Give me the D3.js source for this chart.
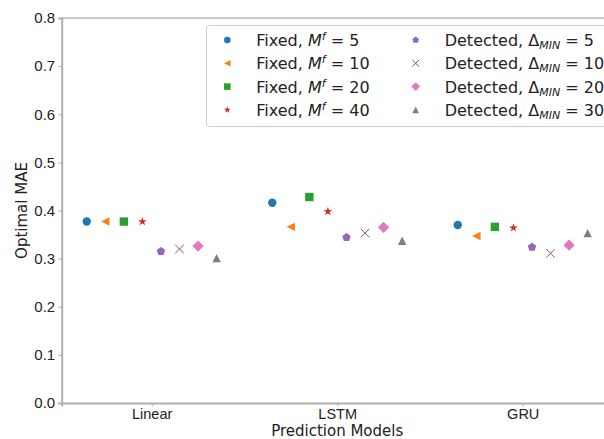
<html lang="en">
<head>
<meta charset="utf-8">
<title>Optimal MAE</title>
<style>
  body { margin: 0; background: white; }
  svg { display: block; font-family: "DejaVu Sans", sans-serif; }
  .tick text { font-size: 15px; fill: #222; }
  .x-axis .tick text { font-size: 14.5px; }
  .lab { font-size: 15px; fill: #222; }
  .leg { font-size: 16px; fill: #222; }
</style>
<script src="https://cdn.jsdelivr.net/npm/d3@7"></script>
</head>
<body>
<script>
// models on the x axis
var models = ["Linear", "LSTM", "GRU"];
var yTicks = [0.0, 0.1, 0.2, 0.3, 0.4, 0.5, 0.6, 0.7, 0.8];

// optimal MAE per model, one array per configuration
var fixed5  = [0.377, 0.416, 0.370];
var fixed10 = [0.377, 0.366, 0.347];
var fixed20 = [0.377, 0.428, 0.366];
var fixed40 = [0.377, 0.398, 0.364];
var det5  = [0.315, 0.344, 0.324];
var det10 = [0.320, 0.353, 0.311];
var det20 = [0.326, 0.365, 0.328];
var det30 = [0.301, 0.337, 0.353];

var series = [
  { kind: "fixed", p: "5",  marker: "circle",   color: "#1f77b4", values: fixed5 },
  { kind: "fixed", p: "10", marker: "tri-left", color: "#ff7f0e", values: fixed10 },
  { kind: "fixed", p: "20", marker: "square",   color: "#2ca02c", values: fixed20 },
  { kind: "fixed", p: "40", marker: "star",     color: "#d62728", values: fixed40 },
  { kind: "det",   p: "5",  marker: "pentagon", color: "#9467bd", values: det5 },
  { kind: "det",   p: "10", marker: "x",        color: "#8c564b", values: det10 },
  { kind: "det",   p: "20", marker: "diamond",  color: "#e377c2", values: det20 },
  { kind: "det",   p: "30", marker: "tri-up",   color: "#7f7f7f", values: det30 }
];

var W = 604, H = 439;
var svg = d3.select("body").append("svg").attr("width", W).attr("height", H);

// model index -> position, each series offset by 0.1
var x = d3.scaleLinear().domain([-0.485, 2.485]).range([61.7, 612.7]);
var offset = d3.scalePoint().domain(d3.range(series.length)).range([-0.35, 0.35]);
var y = d3.scaleLinear().domain([0, 0.8]).range([403, 18]);

function poly(pts) {
  return "M" + pts.map(function(p) { return p[0].toFixed(2) + "," + p[1].toFixed(2); }).join("L") + "Z";
}
function regular(n, r, rot) {
  return d3.range(n).map(function(i) {
    var a = rot + i * 2 * Math.PI / n;
    return [r * Math.sin(a), -r * Math.cos(a)];
  });
}
function markerPath(m, s) {
  if (m === "circle") return d3.symbol(d3.symbolCircle, Math.PI * s * s)();
  if (m === "square") return poly([[-s, -s], [s, -s], [s, s], [-s, s]]);
  if (m === "tri-left") return poly([[-s, 0], [s, -s], [s, s]]);
  if (m === "tri-up") return poly([[0, -s], [s, s], [-s, s]]);
  if (m === "diamond") { var d = s * 1.35; return poly([[0, -d], [d, 0], [0, d], [-d, 0]]); }
  if (m === "pentagon") return poly(regular(5, s * 1.05, 0));
  if (m === "star") {
    var pts = [];
    d3.range(10).forEach(function(i) {
      var r = i % 2 ? s * 1.1 * 0.382 : s * 1.1;
      var a = i * Math.PI / 5;
      pts.push([r * Math.sin(a), -r * Math.cos(a)]);
    });
    return poly(pts);
  }
  if (m === "x") return "M" + (-s) + "," + (-s) + "L" + s + "," + s + "M" + (-s) + "," + s + "L" + s + "," + (-s);
}
function drawMarker(g, d, s) {
  var p = g.append("path").attr("d", markerPath(d.marker, s));
  if (d.marker === "x") p.attr("fill", "none").attr("stroke", d.color).attr("stroke-width", 1);
  else p.attr("fill", d.color);
  return p;
}

// axes
var yAxis = svg.append("g").attr("transform", "translate(61.7,0)")
  .call(d3.axisLeft(y).tickValues(yTicks).tickFormat(d3.format(".1f")).tickSize(3.5).tickPadding(3));
var xAxis = svg.append("g").attr("class", "x-axis").attr("transform", "translate(0,403)")
  .call(d3.axisBottom(x).tickValues(d3.range(models.length)).tickFormat(function(i) { return models[i]; }).tickSize(3.5).tickPadding(2));
[yAxis, xAxis].forEach(function(a) {
  a.select(".domain").attr("stroke", "#b0b0b0").attr("stroke-width", 2);
  a.selectAll(".tick line").attr("stroke", "#b0b0b0");
});
svg.append("line").attr("x1", 61.7).attr("x2", W).attr("y1", 18).attr("y2", 18)
  .attr("stroke", "#999").attr("stroke-width", 1);

svg.append("text").attr("class", "lab").attr("text-anchor", "middle")
  .attr("transform", "translate(27," + y(0.4) + ") rotate(-90)").text("Optimal MAE");
svg.append("text").attr("class", "lab").attr("text-anchor", "middle")
  .attr("x", x(1)).attr("y", 435.5).text("Prediction Models");

// points
series.forEach(function(s, j) {
  s.values.forEach(function(v, i) {
    var g = svg.append("g").attr("transform", "translate(" + x(i + offset(j)) + "," + y(v) + ")");
    drawMarker(g, s, 4.2);
  });
});

// legend
var leg = svg.append("g");
leg.append("rect").attr("x", 206.5).attr("y", 25.5).attr("width", 410).attr("height", 101)
  .attr("rx", 3).attr("fill", "white").attr("fill-opacity", 0.8).attr("stroke", "#ccc");
series.forEach(function(s, j) {
  var col = j < 4 ? 0 : 1, row = j % 4;
  var mx = col ? 415.7 : 227.3, ty = 40 + row * 23.3;
  var g = leg.append("g").attr("transform", "translate(" + mx + "," + ty + ")");
  drawMarker(g, s, 3.3);
  var t = leg.append("text").attr("class", "leg").attr("x", mx + 29).attr("y", ty + 6);
  if (s.kind === "fixed") {
    t.append("tspan").text("Fixed, ");
    t.append("tspan").attr("font-style", "italic").text("M");
    t.append("tspan").attr("font-style", "italic").attr("font-size", "11px").attr("dy", -6).text("f");
    t.append("tspan").attr("dy", 6).text(" = " + s.p);
  } else {
    t.append("tspan").text("Detected, Δ");
    t.append("tspan").attr("font-style", "italic").attr("font-size", "11px").attr("dy", 3).text("MIN");
    t.append("tspan").attr("dy", -3).text(" = " + s.p);
  }
});
</script>
</body>
</html>
